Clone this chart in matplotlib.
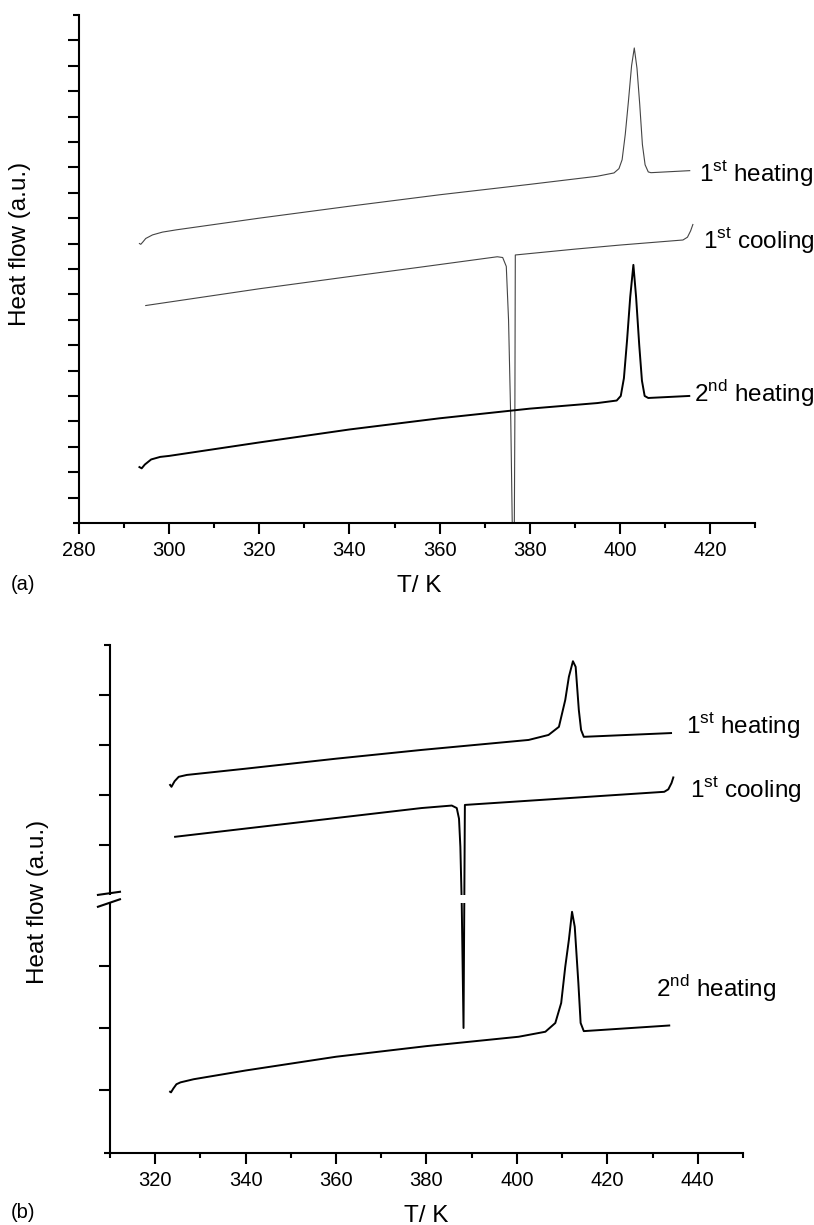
import numpy as np
import matplotlib
matplotlib.use('Agg')
import matplotlib.pyplot as plt
from matplotlib.ticker import MultipleLocator, FixedLocator
from matplotlib.patches import Rectangle
import matplotlib.transforms as mtransforms

plt.rcParams['font.family'] = ['Liberation Sans', 'DejaVu Sans']
plt.rcParams['mathtext.fontset'] = 'custom'
plt.rcParams['mathtext.rm'] = 'Liberation Sans'

# ---- panel (a) curves (T in K, heat flow in a.u.) ----
a_heat1_T = [293.4, 293.7, 294.2, 294.8, 296.3, 298.5, 301.6, 320, 340, 360, 380, 395, 398.7,
             399.8, 400.5, 401.2, 401.9, 402.6, 403.2, 403.8, 404.4, 405.0, 405.6, 406.3, 406.9, 415.5]
a_heat1_y = [11.0, 10.97, 11.07, 11.2, 11.34, 11.45, 11.54, 12.0, 12.47, 12.92, 13.33, 13.65, 13.78,
             13.95, 14.3, 15.3, 16.6, 18.0, 18.7, 17.9, 16.5, 14.9, 14.1, 13.82, 13.79, 13.87]

a_cool1_T = [294.8, 320, 340, 355.7, 372.8, 374.0, 374.8, 375.3, 375.8, 376.2, 376.5,
             376.7, 376.8, 390, 400, 414.0, 415.0, 415.7, 416.2]
a_cool1_y = [8.56, 9.22, 9.70, 10.07, 10.48, 10.45, 10.1, 8.0, 4.0, -1.0, -3.0,
             4.0, 10.55, 10.78, 10.94, 11.14, 11.25, 11.5, 11.75]

a_heat2_T = [293.4, 293.9, 294.6, 296, 298, 300, 320, 340, 360, 380, 395, 399.3, 400.2, 400.9,
             401.6, 402.3, 403.0, 403.6, 404.3, 404.9, 405.5, 406.3, 415.4]
a_heat2_y = [2.2, 2.15, 2.3, 2.5, 2.6, 2.64, 3.17, 3.68, 4.12, 4.5, 4.72, 4.82, 5.0, 5.7,
             7.2, 8.9, 10.16, 8.9, 7.0, 5.6, 5.0, 4.92, 5.0]

# ---- panel (b) curves ----
b_heat1_T = [323.3, 323.6, 324.3, 325.2, 327.0, 340, 360, 378.9, 402.6, 407.0, 409.3, 410.7,
             411.5, 412.4, 413.0, 413.7, 414.2, 414.8, 434.1]
b_heat1_y = [5.89, 5.86, 5.95, 6.02, 6.05, 6.15, 6.31, 6.45, 6.61, 6.69, 6.82, 7.25,
             7.62, 7.87, 7.78, 7.09, 6.77, 6.66, 6.72]

b_cool1_T = [324.4, 378.9, 385.6, 386.7, 387.2, 387.5, 387.8, 388.2, 388.5, 432.6, 433.5, 434.2, 434.6]
b_cool1_y = [5.06, 5.52, 5.56, 5.52, 5.35, 4.9, 4.0, 2.0, 5.57, 5.78, 5.82, 5.92, 6.01]

b_heat2_T = [323.3, 323.5, 324.0, 324.7, 325.6, 328.5, 340, 360, 380, 400.4, 406.3, 408.5, 409.8,
             410.7, 411.5, 412.2, 412.8, 413.6, 414.1, 414.8, 433.7]
b_heat2_y = [0.98, 0.97, 1.03, 1.1, 1.13, 1.18, 1.32, 1.54, 1.71, 1.86, 1.94, 2.08, 2.4,
             2.98, 3.41, 3.86, 3.62, 2.72, 2.08, 1.95, 2.04]

labels = [r'1$^{\mathrm{st}}$ heating', r'1$^{\mathrm{st}}$ cooling', r'2$^{\mathrm{nd}}$ heating']
a_label_pos = [(417.6, 13.46), (418.5, 10.83), (416.5, 4.78)]
b_label_pos = [(437.3, 6.72), (438.2, 5.70), (430.7, 2.50)]

# upper / lower tick positions on the broken axis of (b)
b_yticks = [1, 2, 3, 4.93, 5.73, 6.53, 7.33]
b_break = (4.0, 4.13)

fig = plt.figure(figsize=(8.14, 12.25), dpi=100)
ax_a = fig.add_axes([0.0971, 0.5731, 0.8305, 0.4147])
ax_b = fig.add_axes([0.1351, 0.0588, 0.7776, 0.4147])

big = 17.5
small = 14.5

def style(ax):
    for s in ['top', 'right']:
        ax.spines[s].set_visible(False)
    for s in ['left', 'bottom']:
        ax.spines[s].set_linewidth(1.5)
    ax.xaxis.set_major_locator(MultipleLocator(20))
    ax.xaxis.set_minor_locator(MultipleLocator(10))
    ax.tick_params(axis='x', which='major', direction='out', length=7.7, width=1.5,
                   labelsize=small, pad=5)
    ax.tick_params(axis='x', which='minor', direction='out', length=3.6, width=1.5)
    ax.tick_params(axis='y', which='major', direction='out', length=7.7, width=1.5, labelleft=False)
    ax.tick_params(axis='y', which='minor', direction='out', length=4.5, width=1.5)
    ax.set_xlabel('T/ K', fontsize=big)

# ---- panel (a) ----
ax = ax_a
ax.plot(a_heat1_T, a_heat1_y, color='#444444', lw=0.8)
ax.plot(a_cool1_T, a_cool1_y, color='#444444', lw=0.8)
ax.plot(a_heat2_T, a_heat2_y, color='black', lw=1.4)
ax.set_xlim(280, 430)
ax.set_ylim(0, 20)
style(ax)
ax.set_xticks(np.arange(280, 421, 20))
ax.yaxis.set_major_locator(FixedLocator(np.arange(1, 20)))
ax.yaxis.set_minor_locator(FixedLocator([0, 20]))
ax.set_ylabel('Heat flow (a.u.)', fontsize=big)
ax.yaxis.set_label_coords(-0.071, 0.55)
ax.xaxis.set_label_coords(0.503, -0.102)
for lab, (x, y) in zip(labels, a_label_pos):
    ax.text(x, y, lab, fontsize=big, va='baseline', ha='left', clip_on=False)

# ---- panel (b) ----
ax = ax_b
ax.plot(b_heat1_T, b_heat1_y, color='black', lw=1.4)
ax.plot(b_cool1_T, b_cool1_y, color='black', lw=1.4)
ax.plot(b_heat2_T, b_heat2_y, color='black', lw=1.4)
ax.set_xlim(310, 450)
ax.set_ylim(0, 8.13)
style(ax)
ax.set_xticks(np.arange(320, 441, 20))
ax.yaxis.set_major_locator(FixedLocator(b_yticks))
ax.yaxis.set_minor_locator(FixedLocator([0, 8.13]))
ax.set_ylabel('Heat flow (a.u.)', fontsize=big)
ax.yaxis.set_label_coords(-0.096, 0.495)
ax.xaxis.set_label_coords(0.5, -0.102)
for lab, (x, y) in zip(labels, b_label_pos):
    ax.text(x, y, lab, fontsize=big, va='baseline', ha='left', clip_on=False)

# axis break: white gap plus two slashes
trans = mtransforms.blended_transform_factory(ax.transAxes, ax.transData)
ax.add_patch(Rectangle((-0.01, b_break[0]), 1.01, b_break[1] - b_break[0], transform=trans,
                       facecolor='white', edgecolor='none', zorder=3, clip_on=False))
ax.plot([-0.019, 0.0158], [4.13, 4.18], transform=trans, color='black', lw=1.5,
        clip_on=False, zorder=4)
ax.plot([-0.019, 0.0158], [3.94, 4.06], transform=trans, color='black', lw=1.5,
        clip_on=False, zorder=4)

fig.text(0.028, 0.523, '(a)', fontsize=small, ha='center', va='center')
fig.text(0.028, 0.0098, '(b)', fontsize=small, ha='center', va='center')

fig.savefig('out.png', dpi=100)
